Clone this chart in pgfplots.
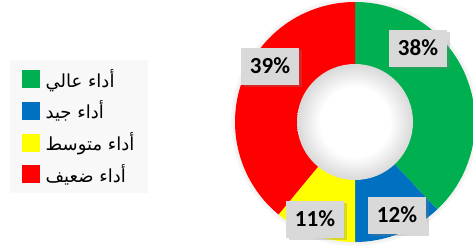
\documentclass[border=0pt]{standalone}
\usepackage{pgfplots}
\usepackage{pgfplotstable}
\pgfplotsset{compat=1.18}
\usepackage{fontspec}
\setmainfont{Carlito}
\newfontfamily\arabicfont[Script=Arabic]{DejaVu Sans}
\TeXXeTstate=1
\usetikzlibrary{shadows}
\definecolor{cgreen}{HTML}{00B050}
\definecolor{cblue}{HTML}{0070C0}
\definecolor{cyellow}{HTML}{FFFF00}
\definecolor{cred}{HTML}{FF0000}
\definecolor{lblgray}{HTML}{D9D9D9}
\definecolor{leggray}{HTML}{F8F8F8}
\pgfdeclareradialshading{holeshade}{\pgfpointorigin}{color(0bp)=(white); color(15bp)=(white); color(25bp)=(black!15); color(50bp)=(black!15)}

\pgfplotstableread{
value col lx ly
38 cgreen 418 199
12 cblue 397 32
11 cyellow 315 28
39 cred 270 181
}\piedata

\begin{document}
\begin{tikzpicture}
\clip (0,0) rectangle (473pt,247pt);
\begin{axis}[width=473pt,height=247pt,scale only axis,
  xmin=0,xmax=473,ymin=0,ymax=247,hide axis,clip=false,
  /pgf/number format/assume math mode=true,
  legend style={at={(axis cs:10,187)},anchor=north west,fill=leggray,draw=none,
    font=\arabicfont\fontsize{18}{20}\selectfont,
    inner xsep=12pt,inner ysep=7pt,row sep=8.2pt,column sep=4pt},
  legend cell align=left]
\path (axis cs:0,0) rectangle (axis cs:473,247);
% soft halo
\fill[black!3] (axis cs:355,125) circle[radius=124pt];
\fill[black!5] (axis cs:355,125) circle[radius=122pt];
% donut sectors from data
\def\angA{90}
\pgfplotstablegetrowsof{\piedata}
\pgfmathtruncatemacro\N{\pgfplotsretval-1}
\pgfplotsforeachungrouped \i in {0,...,\N}{%
  \pgfplotstablegetelem{\i}{value}\of{\piedata}\let\v\pgfplotsretval
  \pgfplotstablegetelem{\i}{col}\of{\piedata}\let\c\pgfplotsretval
  \pgfmathsetmacro\angB{\angA-3.6*\v}%
  \edef\temp{\noexpand\fill[\c] (axis cs:355,125) -- ++(\angA:120pt) arc[start angle=\angA, end angle=\angB, radius=120pt] -- cycle;}%
  \temp
  \global\let\angA\angB
}
\shade[shading=holeshade] (axis cs:355,125) circle[radius=58pt];
% labels
\addplot[forget plot,draw=none,mark=none,
  point meta=explicit,
  nodes near coords={\pgfmathprintnumber{\pgfplotspointmeta}\%},
  nodes near coords style={anchor=center,fill=lblgray,minimum width=58pt,minimum height=37pt,inner sep=0pt,
    font=\bfseries\fontsize{23}{23}\selectfont,text=black,
    drop shadow={shadow xshift=2.5pt,shadow yshift=-2.5pt,opacity=0.3}}]
  table[x=lx,y=ly,meta=value]{\piedata};
% legend
\addlegendimage{legend image code/.code={\fill[cgreen] (0pt,-8.5pt) rectangle (17pt,8.5pt);}}
\addlegendentry{\beginR أداء عالي\endR}
\addlegendimage{legend image code/.code={\fill[cblue] (0pt,-8.5pt) rectangle (17pt,8.5pt);}}
\addlegendentry{\beginR أداء جيد\endR}
\addlegendimage{legend image code/.code={\fill[cyellow] (0pt,-8.5pt) rectangle (17pt,8.5pt);}}
\addlegendentry{\beginR أداء متوسط\endR}
\addlegendimage{legend image code/.code={\fill[cred] (0pt,-8.5pt) rectangle (17pt,8.5pt);}}
\addlegendentry{\beginR أداء ضعيف\endR}
\end{axis}
\end{tikzpicture}
\end{document}
